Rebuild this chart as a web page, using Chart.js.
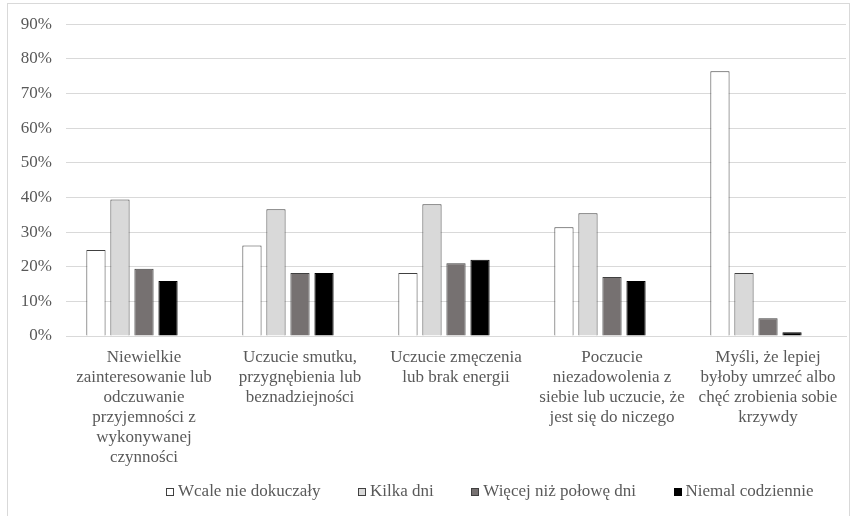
<!DOCTYPE html>
<html lang="pl">
<head>
<meta charset="utf-8">
<script src="https://cdn.jsdelivr.net/npm/chart.js@4/dist/chart.umd.min.js"></script>
<style>
  html, body { margin: 0; padding: 0; background: #ffffff; overflow: hidden; }
  #wrap { position: relative; width: 857px; height: 516px; }
  #chart { position: absolute; left: 0; top: 0; }
  #frame {
    position: absolute; left: 7px; top: 3px; width: 843px; height: 560px;
    border: 1px solid #d9d9d9; pointer-events: none; box-sizing: border-box;
  }
</style>
</head>
<body>
<div id="wrap">
  <canvas id="chart" width="857" height="516"></canvas>
  <div id="frame"></div>
</div>
<script>
// Category labels, already broken into lines
const categories = [
  ["Niewielkie", "zainteresowanie lub", "odczuwanie", "przyjemności z", "wykonywanej", "czynności"],
  ["Uczucie smutku,", "przygnębienia lub", "beznadziejności"],
  ["Uczucie zmęczenia", "lub brak energii"],
  ["Poczucie", "niezadowolenia z", "siebie lub uczucie, że", "jest się do niczego"],
  ["Myśli, że lepiej", "byłoby umrzeć albo", "chęć zrobienia sobie", "krzywdy"]
];

// Share of answers (%) per category
const wcaleNieDokuczaly = [24.8, 26.1, 18.2, 31.4, 76.4];
const kilkaDni          = [39.4, 36.6, 38.0, 35.4, 18.2];
const wiecejNizPolowe   = [19.4, 18.2, 21.0, 17.0, 5.1];
const niemalCodziennie  = [15.9, 18.2, 22.0, 15.9, 1.1];

// Empty fifth slot in every group (no answers plotted)
const emptySlot = [];

const seriesNames = ["Wcale nie dokuczały", "Kilka dni", "Więcej niż połowę dni", "Niemal codziennie"];

// Y axis ticks (%)
const yTicks = [0, 10, 20, 30, 40, 50, 60, 70, 80, 90];

const serif = "'Liberation Serif', 'Times New Roman', serif";
const textColor = "#595959";
const gridColor = "#d9d9d9";

// Legend row drawn under the axis labels: small square, short gap, name
const legendRow = {
  id: "legendRow",
  afterDraw(chart) {
    const ctx = chart.ctx;
    const items = chart.data.datasets.filter(ds => ds.label !== "");
    const box = 8, gapText = 4, gapItem = 37.5, startX = 166, centerY = 492;
    ctx.save();
    ctx.font = "17px " + serif;
    ctx.textBaseline = "middle";
    ctx.textAlign = "left";
    let x = startX;
    items.forEach(ds => {
      const bx = Math.round(x);
      ctx.fillStyle = ds.backgroundColor;
      ctx.fillRect(bx, centerY - box / 2, box, box);
      ctx.lineWidth = 1;
      ctx.strokeStyle = ds.borderColor;
      ctx.strokeRect(bx + 0.5, Math.round(centerY - box / 2) + 0.5, box - 1, box - 1);
      x += box + gapText;
      ctx.fillStyle = textColor;
      ctx.fillText(ds.label, x, centerY);
      x += ctx.measureText(ds.label).width + gapItem;
    });
    ctx.restore();
  }
};

new Chart(document.getElementById("chart"), {
  type: "bar",
  data: {
    labels: categories,
    datasets: [
      { label: seriesNames[0], data: wcaleNieDokuczaly, backgroundColor: "#ffffff", borderColor: "#404040", borderWidth: 1 },
      { label: seriesNames[1], data: kilkaDni, backgroundColor: "#d9d9d9", borderColor: "#404040", borderWidth: 1 },
      { label: seriesNames[2], data: wiecejNizPolowe, backgroundColor: "#767171", borderColor: "#404040", borderWidth: 1 },
      { label: seriesNames[3], data: niemalCodziennie, backgroundColor: "#000000", borderColor: "#000000", borderWidth: 1 },
      { label: "", data: emptySlot, backgroundColor: "rgba(0,0,0,0)", borderColor: "rgba(0,0,0,0)", borderWidth: 0 }
    ]
  },
  plugins: [legendRow],
  options: {
    responsive: false,
    animation: false,
    devicePixelRatio: 1,
    categoryPercentage: 0.77,
    barPercentage: 0.8,
    layout: { padding: { left: 0, right: 11, top: 22, bottom: 0 } },
    plugins: {
      tooltip: { enabled: false },
      legend: { display: false }
    },
    scales: {
      x: {
        grid: { display: false, drawTicks: false },
        border: { display: true, color: gridColor, width: 1 },
        ticks: {
          color: textColor,
          padding: 12,
          maxRotation: 0,
          autoSkip: false,
          font: { family: serif, size: 17, lineHeight: 1.17 }
        },
        afterFit: scale => { scale.height = 180; }
      },
      y: {
        min: yTicks[0],
        max: yTicks[yTicks.length - 1],
        afterBuildTicks: scale => { scale.ticks = yTicks.map(v => ({ value: v })); },
        grid: { color: gridColor, lineWidth: 1, drawTicks: false },
        border: { display: false },
        ticks: {
          color: textColor,
          padding: 14,
          font: { family: serif, size: 17 },
          callback: v => v + "%"
        },
        afterFit: scale => { scale.width = 66; }
      }
    }
  }
});
</script>
</body>
</html>
